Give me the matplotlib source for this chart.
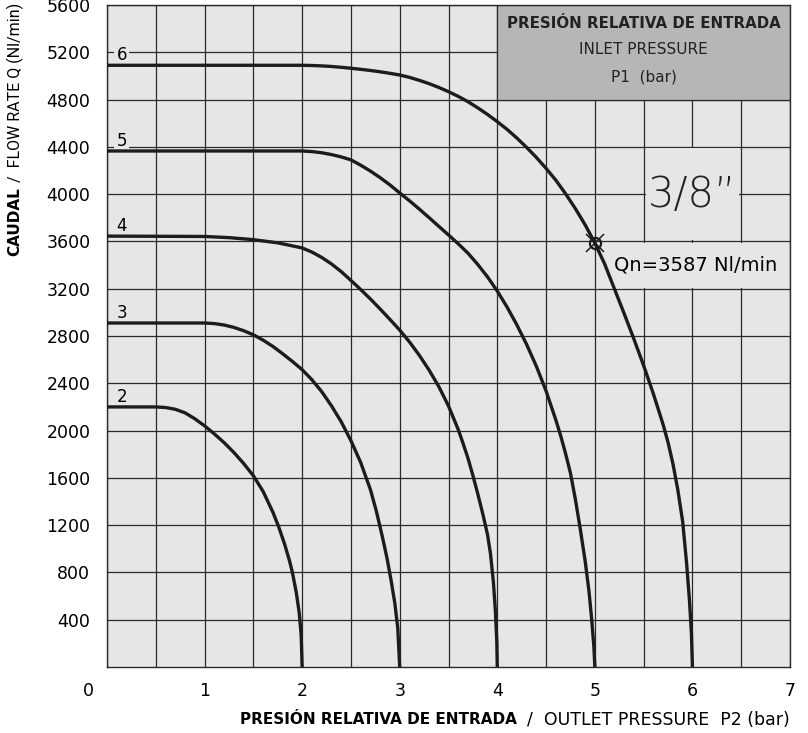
import numpy as np
import matplotlib
matplotlib.use("Agg")
import matplotlib.pyplot as plt
from matplotlib.patches import Rectangle

# ---------- Datos ----------
# presión de salida P2 (bar) y caudal Q (Nl/min) para cada presión de entrada P1
p1_labels = ["2", "3", "4", "5", "6"]

p2_2 = [0, 0.5, 0.6, 0.7, 0.8, 0.9, 1.0, 1.1, 1.2, 1.3, 1.4, 1.5, 1.6, 1.7, 1.76,
        1.82, 1.87, 1.9, 1.94, 1.97, 1.99, 2.0]
q_2 = [2200, 2200, 2195, 2180, 2150, 2100, 2040, 1972, 1898, 1815, 1722, 1618, 1485,
       1310, 1185, 1040, 900, 800, 630, 460, 270, 0]

p2_3 = [0, 1.0, 1.1, 1.2, 1.3, 1.4, 1.5, 1.6, 1.7, 1.8, 1.9, 2.0, 2.1, 2.2, 2.3, 2.4,
        2.5, 2.6, 2.7, 2.76, 2.82, 2.87, 2.91, 2.95, 2.98, 3.0]
q_3 = [2910, 2910, 2905, 2893, 2873, 2845, 2810, 2765, 2712, 2650, 2585, 2515, 2430,
       2330, 2210, 2075, 1915, 1730, 1500, 1320, 1110, 920, 740, 540, 330, 0]

p2_4 = [0, 1.0, 1.25, 1.5, 1.75, 2.0, 2.1, 2.2, 2.3, 2.4, 2.5, 2.6, 2.7, 2.8, 2.9, 3.0,
        3.1, 3.2, 3.3, 3.4, 3.5, 3.6, 3.65, 3.7, 3.75, 3.8, 3.85, 3.9, 3.93, 3.96, 3.98,
        3.995, 4.0]
q_4 = [3645, 3642, 3632, 3615, 3588, 3545, 3510, 3465, 3410, 3345, 3270, 3193, 3113,
       3028, 2940, 2850, 2750, 2638, 2513, 2373, 2208, 2008, 1890, 1765, 1620, 1465,
       1300, 1120, 960, 720, 480, 220, 0]

p2_5 = [0, 2.0, 2.1, 2.2, 2.3, 2.4, 2.5, 2.6, 2.7, 2.8, 2.9, 3.0, 3.1, 3.2, 3.3, 3.4,
        3.5, 3.6, 3.7, 3.8, 3.9, 4.0, 4.1, 4.2, 4.3, 4.4, 4.5, 4.6, 4.65, 4.7, 4.75,
        4.8, 4.85, 4.9, 4.94, 4.97, 4.99, 5.0]
q_5 = [4365, 4365, 4360, 4350, 4335, 4315, 4290, 4245, 4195, 4139, 4078, 4010, 3944,
       3874, 3802, 3728, 3655, 3580, 3500, 3405, 3300, 3180, 3045, 2895, 2730, 2545,
       2335, 2090, 1955, 1805, 1640, 1420, 1170, 900, 640, 380, 170, 0]

p2_6 = [0, 2.0, 2.1, 2.2, 2.3, 2.4, 2.5, 2.6, 2.7, 2.8, 2.9, 3.0, 3.1, 3.2, 3.3, 3.4,
        3.5, 3.6, 3.7, 3.8, 3.9, 4.0, 4.1, 4.2, 4.3, 4.4, 4.5, 4.6, 4.7, 4.8, 4.9, 5.0,
        5.1, 5.2, 5.3, 5.4, 5.5, 5.6, 5.7, 5.75, 5.8, 5.85, 5.9, 5.94, 5.97, 5.99, 6.0]
q_6 = [5090, 5090, 5088, 5085, 5080, 5073, 5065, 5056, 5046, 5035, 5022, 5008, 4988,
       4963, 4935, 4903, 4867, 4827, 4782, 4730, 4674, 4613, 4548, 4475, 4396, 4311,
       4218, 4118, 4003, 3878, 3741, 3587, 3410, 3200, 2990, 2775, 2550, 2310, 2050,
       1900, 1720, 1500, 1230, 880, 560, 280, 0]

qn_p2 = 5.0
qn_q = 3587

x_ticks = [1, 2, 3, 4, 5, 6, 7]
y_ticks = [400, 800, 1200, 1600, 2000, 2400, 2800, 3200, 3600, 4000, 4400, 4800, 5200, 5600]

curvas = [(p2_2, q_2), (p2_3, q_3), (p2_4, q_4), (p2_5, q_5), (p2_6, q_6)]

# ---------- Figura ----------
plt.rcParams['font.family'] = ['DejaVu Sans']
fondo = "#e6e6e6"
linea = "#1c1c1c"
W, H = 808, 733

fig = plt.figure(figsize=(W / 100, H / 100), dpi=100)
ax = fig.add_axes([107 / W, 66 / H, 683 / W, 662 / H])
ax.set_facecolor(fondo)
ax.set_xlim(0, 7)
ax.set_ylim(0, 5600)

ax.set_xticks(x_ticks)
ax.set_xticks(np.arange(0, 7.01, 0.5), minor=True)
ax.set_yticks(y_ticks)
ax.tick_params(length=0, labelsize=12.5, pad=12)
ax.tick_params(axis="x", pad=11)
ax.tick_params(which="minor", length=0)
ax.grid(True, which="both", color="#2a2a2a", linewidth=0.9)
for s in ax.spines.values():
    s.set_color("#2a2a2a")
    s.set_linewidth(1.0)

# el "0" en la esquina
ax.text(-0.19, -200, "0", ha="center", va="center", fontsize=12.5, clip_on=False)

# cajas que tapan la rejilla
ax.add_patch(Rectangle((4.0, 4800), 3.0, 800, facecolor="#b6b6b6",
                       edgecolor="#2a2a2a", linewidth=0.9, zorder=1.8))
ax.add_patch(Rectangle((5.52, 3610), 0.96, 780, facecolor=fondo,
                       edgecolor="none", zorder=1.7))
ax.add_patch(Rectangle((5.02, 3210), 1.96, 380, facecolor=fondo,
                       edgecolor="none", zorder=1.7))

# curvas
for (x, y), lab in zip(curvas, p1_labels):
    ax.plot(x, y, color=linea, linewidth=2.4, solid_joinstyle="round", zorder=3)
    ax.text(0.15, y[0] + 85, lab, fontsize=12, ha="center", va="center", zorder=2.5,
            bbox=dict(boxstyle="square,pad=0.12", facecolor=fondo, edgecolor="none"))

# punto Qn
ax.plot([qn_p2], [qn_q], marker="o", markersize=8, markerfacecolor="none",
        markeredgecolor=linea, markeredgewidth=1.6, zorder=4)
ax.plot([qn_p2], [qn_q], marker="x", markersize=13, color=linea,
        markeredgewidth=1.1, zorder=4)
ax.text(5.2, 3400, "Qn=3587 Nl/min", fontsize=14, ha="left", va="center", zorder=4)
ax.text(6.0, 4000, "3/8\u201d", fontsize=30, ha="center", va="center",
        fontweight="light", color="#222222", zorder=4)

# texto de la caja gris
ax.text(5.5, 5440, "PRESIÓN RELATIVA DE ENTRADA", fontsize=10.8, fontweight="bold",
        ha="center", va="center", color="#222222", zorder=4)
ax.text(5.5, 5225, "INLET PRESSURE", fontsize=11, ha="center", va="center",
        color="#222222", zorder=4)
ax.text(5.5, 4995, "P1  (bar)", fontsize=11, ha="center", va="center",
        color="#222222", zorder=4)

# títulos de los ejes
fig.text(517 / W, 1 - 720 / H, "PRESIÓN RELATIVA DE ENTRADA", fontsize=11,
         fontweight="bold", ha="right", va="center")
fig.text(527 / W, 1 - 720 / H, "/  OUTLET PRESSURE  P2 (bar)", fontsize=12.5,
         ha="left", va="center")

# eje Y: la parte normal termina arriba, "CAUDAL" va justo debajo
t_flow = fig.text(15 / W, 1 - 3 / H, "/  FLOW RATE Q (Nl/min)", fontsize=11.5,
                  family=["Roboto", "DejaVu Sans"], rotation=90,
                  rotation_mode="anchor", ha="right", va="center")
fig.canvas.draw()
bb = t_flow.get_window_extent()
fig.text(15 / W, (bb.y0 - 5) / H, "CAUDAL", fontsize=11, fontweight="bold",
         rotation=90, rotation_mode="anchor", ha="right", va="center")

fig.savefig("out.png", dpi=100, facecolor="white")
